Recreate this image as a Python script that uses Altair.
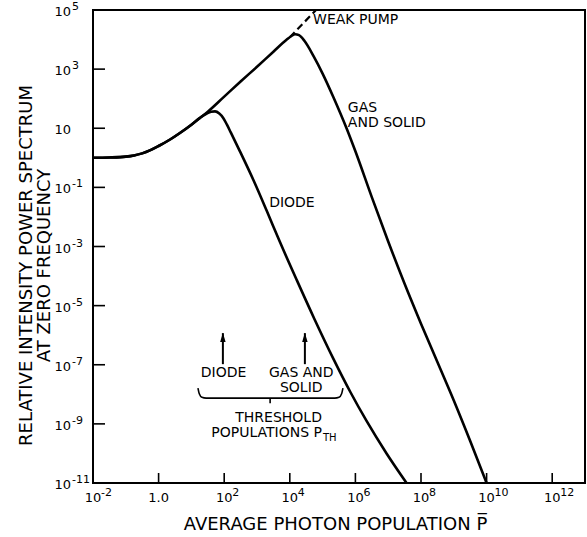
import altair as alt
import pandas as pd

# ---- values (log10 of P and of the spectrum) ----
common_logP = [-2.0, -1.5, -1.0, -0.75, -0.5, -0.25, 0.0, 0.35, 0.65, 1.0, 1.26]
common_logS = [0.0, 0.01, 0.04, 0.08, 0.15, 0.26, 0.40, 0.62, 0.84, 1.12, 1.35]

diode_logP = [1.47, 1.6, 1.72, 1.85, 1.97, 2.08, 2.2, 2.48, 2.89, 3.3, 3.7, 4.21, 4.75, 5.33,
              5.85, 6.34, 6.95, 7.56]
diode_logS = [1.50, 1.56, 1.57, 1.50, 1.35, 1.13, 0.86, 0.22, -0.75, -1.80, -2.85, -4.13, -5.45,
              -6.80, -7.93, -8.90, -10.0, -11.0]

gas_logP = [1.5, 2.0, 2.5, 3.0, 3.5, 3.9, 4.05, 4.16, 4.28, 4.45, 4.72, 5.0, 5.33, 5.73,
            6.0, 6.5, 7.0, 7.5, 8.0, 8.5, 9.0, 9.5, 10.0]
gas_logS = [1.56, 2.07, 2.58, 3.08, 3.59, 3.99, 4.12, 4.18, 4.15, 3.95, 3.45, 2.85, 2.05, 1.00,
            0.22, -1.33, -2.83, -4.26, -5.61, -6.91, -8.21, -9.58, -11.0]

weak_logP = [4.0, 4.8]
weak_logS = [4.08, 5.0]

# tick positions (log10) and their labels: base text and exponent
xtick_exp = [-2, 0, 2, 4, 6, 8, 10, 12]
xtick_base = ["10", "1.0", "10", "10", "10", "10", "10", "10"]
xtick_sup = ["-2", "", "2", "4", "6", "8", "10", "12"]
ytick_exp = [5, 3, 1, -1, -3, -5, -7, -9, -11]
ytick_base = ["10", "10", "10", "10", "10", "10", "10", "10", "10"]
ytick_sup = ["5", "3", "", "-1", "-3", "-5", "-7", "-9", "-11"]

# annotations (log10 positions of the first line)
left_texts = ["WEAK PUMP", "GAS\nAND SOLID", "DIODE"]
left_logP = [4.71, 5.77, 3.37]
left_logS = [4.66, 1.68, -1.53]

center_texts = ["DIODE", "GAS AND\nSOLID"]
center_logP = [1.98, 4.35]
center_logS = [-7.28, -7.28]

thr_text, thr_logP, thr_logS = "THRESHOLD\nPOPULATIONS P", 4.98, -8.80
sub_text, sub_logP, sub_logS = "TH", 5.01, -9.48

arrow_logP = [1.96, 4.46]
arrow_tail_logS = [-6.98, -6.98]
arrow_tip_logS = [-5.93, -5.93]

brace_logP = [1.20, 1.24, 1.32, 1.45, 5.37, 5.50, 5.58, 5.62]
brace_logS = [-7.79, -7.98, -8.10, -8.13, -8.13, -8.10, -7.98, -7.79]
brace_tick_logP = 3.40
brace_tick_logS = [-8.13, -8.30]

W, H = 492, 473
FONT = "DejaVu Sans"


def p(v):
    return 10.0 ** v


rows = []
for name, xs, ys in [("diode", common_logP + diode_logP, common_logS + diode_logS),
                     ("gas", common_logP + gas_logP, common_logS + gas_logS)]:
    for i, (a, b) in enumerate(zip(xs, ys)):
        rows.append({"series": name, "order": i, "P": p(a), "S": p(b)})
curves = pd.DataFrame(rows)
weak = pd.DataFrame({"P": [p(v) for v in weak_logP], "S": [p(v) for v in weak_logS]})

xscale = alt.Scale(type="log", domain=[1e-2, 1e13])
yscale = alt.Scale(type="log", domain=[1e-11, 1e5])
xaxis = alt.Axis(values=[p(e) for e in xtick_exp], labels=False,
                 title="AVERAGE PHOTON POPULATION P\u0305",
                 titleX=242, titleY=46, titleBaseline="alphabetic", titleAlign="center",
                 titleFontSize=18)
yaxis = alt.Axis(values=[p(e) for e in ytick_exp], labels=False,
                 title=["RELATIVE INTENSITY POWER SPECTRUM", "AT ZERO FREQUENCY"],
                 titleAngle=270, titleX=-76, titleY=255, titleBaseline="top",
                 titleAlign="center", titleFontSize=18, titleLineHeight=18)

X = alt.X("P:Q", scale=xscale, axis=xaxis)
Y = alt.Y("S:Q", scale=yscale, axis=yaxis)

lines = alt.Chart(curves).mark_line(color="black", strokeWidth=2.6, interpolate="monotone",
                                     clip=True).encode(
    x=X, y=Y, detail="series:N", order="order:Q")

weak_line = alt.Chart(weak).mark_line(color="black", strokeWidth=2.2, strokeDash=[7, 4],
                                      clip=True).encode(x=X, y=Y)

# inward ticks
xt = pd.DataFrame({"P": [p(e) for e in xtick_exp], "base": xtick_base, "sup": xtick_sup})
yt = pd.DataFrame({"S": [p(e) for e in ytick_exp], "base": ytick_base, "sup": ytick_sup})
xticks = alt.Chart(xt).mark_rule(color="black", strokeWidth=1.6).encode(
    x=X, y=alt.value(H), y2=alt.value(H - 10))
yticks = alt.Chart(yt).mark_rule(color="black", strokeWidth=1.6).encode(
    y=Y, x=alt.value(0), x2=alt.value(12))

# tick labels: "10" plus raised exponent
xlab_base = alt.Chart(xt).mark_text(font=FONT, fontSize=13, color="black", align="center",
                                    baseline="middle").encode(
    x=X, y=alt.value(H + 15), text="base:N")
xlab_sup = alt.Chart(xt).mark_text(font=FONT, fontSize=11, color="black", align="left",
                                   baseline="middle", dx=8).encode(
    x=X, y=alt.value(H + 10), text="sup:N")
ylab_base = alt.Chart(yt).mark_text(font=FONT, fontSize=13, color="black", align="right",
                                    baseline="middle", dy=2).encode(
    y=Y, x=alt.value(-22), text="base:N")
ylab_sup = alt.Chart(yt).mark_text(font=FONT, fontSize=11, color="black", align="left",
                                   baseline="middle", dy=-3).encode(
    y=Y, x=alt.value(-21), text="sup:N")

ltxt = pd.DataFrame({"t": left_texts, "P": [p(v) for v in left_logP],
                     "S": [p(v) for v in left_logS]})
ctxt = pd.DataFrame({"t": center_texts, "P": [p(v) for v in center_logP],
                     "S": [p(v) for v in center_logS]})
rtxt = pd.DataFrame({"t": [thr_text], "P": [p(thr_logP)], "S": [p(thr_logS)]})
stxt = pd.DataFrame({"t": [sub_text], "P": [p(sub_logP)], "S": [p(sub_logS)]})

tprops = dict(font=FONT, fontSize=14, color="black", baseline="middle",
              lineBreak="\n", lineHeight=15)
left_layer = alt.Chart(ltxt).mark_text(align="left", **tprops).encode(x=X, y=Y, text="t:N")
center_layer = alt.Chart(ctxt).mark_text(align="center", **tprops).encode(x=X, y=Y, text="t:N")
right_layer = alt.Chart(rtxt).mark_text(align="right", **tprops).encode(x=X, y=Y, text="t:N")
sub_layer = alt.Chart(stxt).mark_text(align="left", font=FONT, fontSize=10, color="black",
                                      baseline="middle").encode(x=X, y=Y, text="t:N")

arr = pd.DataFrame({"P": [p(v) for v in arrow_logP],
                    "S": [p(v) for v in arrow_tail_logS],
                    "S2": [p(v) for v in arrow_tip_logS]})
arrow_shaft = alt.Chart(arr).mark_rule(color="black", strokeWidth=2).encode(
    x=X, y=Y, y2="S2:Q")
arrow_head = alt.Chart(arr).mark_point(shape="M0,-1L0.5,0.7L-0.5,0.7Z", filled=True,
                                       color="black", size=120, opacity=1,
                                       yOffset=5).encode(
    x=X, y=alt.Y("S2:Q", scale=yscale, axis=yaxis))

brace = pd.DataFrame({"i": list(range(len(brace_logP))),
                      "P": [p(v) for v in brace_logP],
                      "S": [p(v) for v in brace_logS]})
brace_line = alt.Chart(brace).mark_line(color="black", strokeWidth=1.6,
                                        interpolate="monotone").encode(
    x=X, y=Y, order="i:Q")
bt = pd.DataFrame({"P": [p(brace_tick_logP)], "S": [p(brace_tick_logS[0])],
                   "S2": [p(brace_tick_logS[1])]})
brace_tick = alt.Chart(bt).mark_rule(color="black", strokeWidth=1.6).encode(
    x=X, y=Y, y2="S2:Q")

chart = alt.layer(
    xticks, yticks, xlab_base, xlab_sup, ylab_base, ylab_sup,
    lines, weak_line, left_layer, center_layer, right_layer, sub_layer,
    arrow_shaft, arrow_head, brace_line, brace_tick
).properties(
    width=W, height=H,
    autosize=alt.AutoSizeParams(type="none"),
    padding={"left": 93, "top": 10, "right": 2, "bottom": 54},
    background="white",
).configure_view(
    stroke="black", strokeWidth=2
).configure_axis(
    domain=False, ticks=False, grid=False,
    labelFont=FONT, labelFontSize=14, labelColor="black",
    titleFont=FONT, titleFontWeight="normal", titleColor="black",
)

chart.save("out.html", embed_options={"renderer": "svg", "actions": False})
